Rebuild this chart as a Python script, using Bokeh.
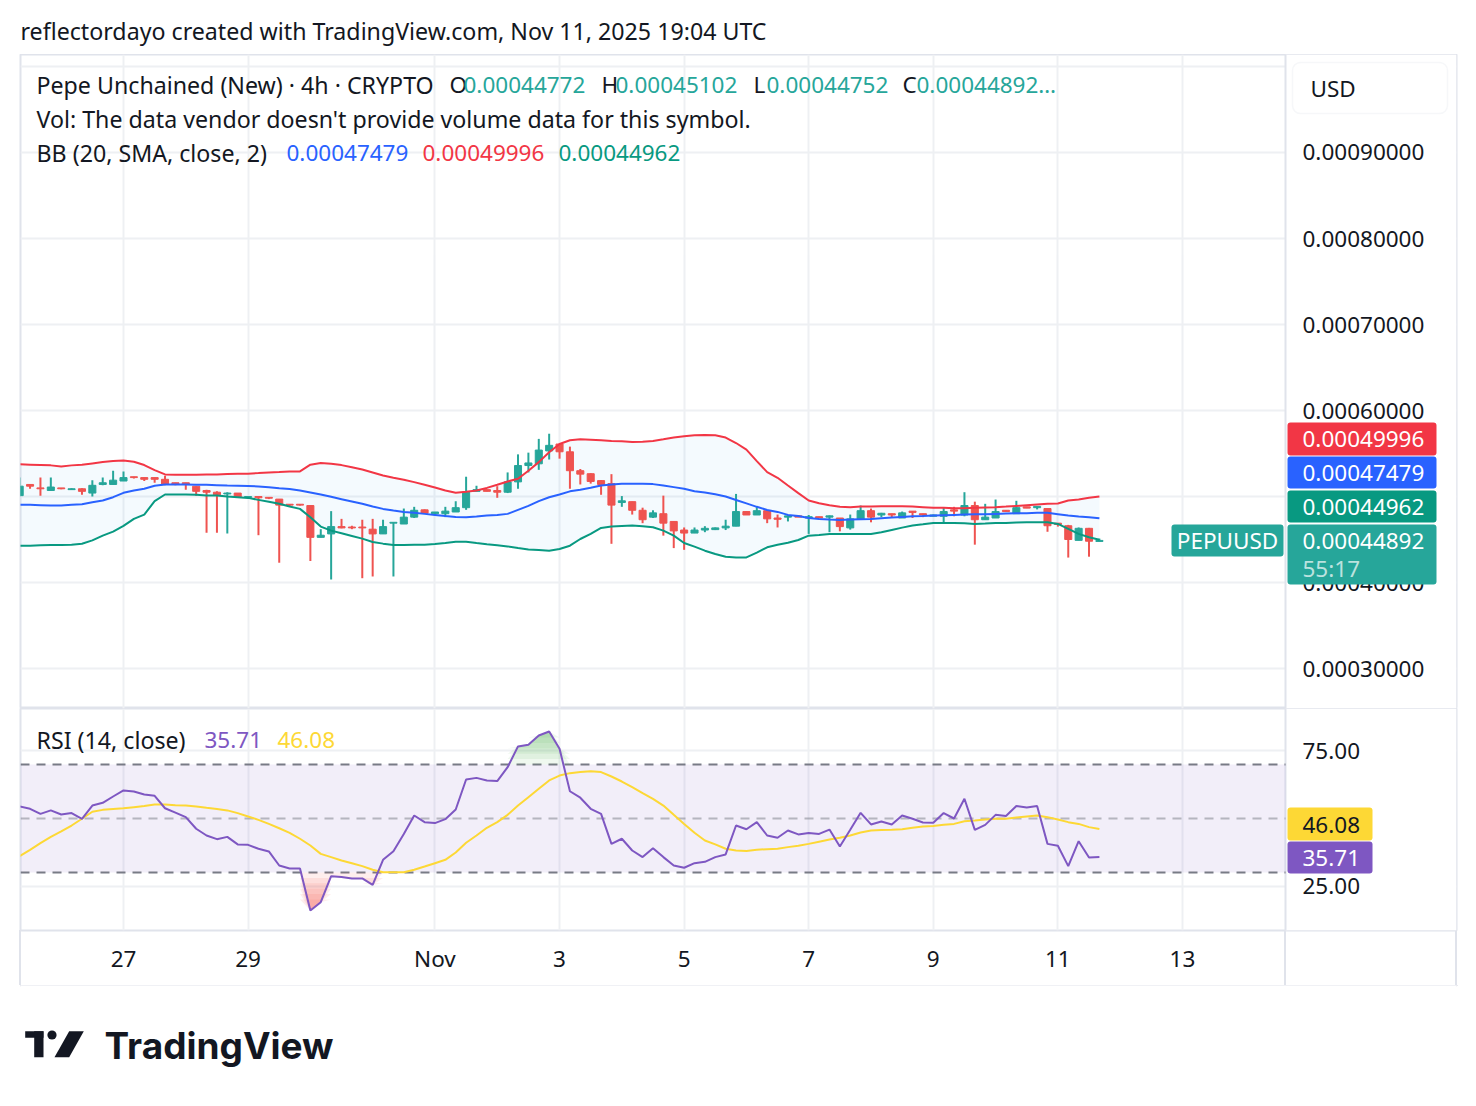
import numpy as np
import pandas as pd
from bokeh.plotting import figure
from bokeh.layouts import column
from bokeh.models import (FixedTicker, Label, BoxAnnotation, Span, Range1d)
from bokeh.embed import file_html
from bokeh.resources import INLINE
from bokeh.core.properties import value

FONT = "Noto Sans"
FS = "22.5px"      # numbers
FS_T = "23.2px"    # words
INK = "#131722"
UP = "#26a69a"
DOWN = "#ef5350"
BB_UP = "#f23645"
BB_MID = "#2962ff"
BB_LOW = "#089981"
RSI_C = "#7e57c2"
MA_C = "#fdd835"
GRID = "#eef0f3"
BORDER = "#e0e3eb"

# ---------------- data (prices in units of 1e-5 USD) ----------------
SCALE = 1e-5
times = pd.date_range("2025-10-25 08:00", periods=105, freq="4h")

open_e5 = [50.1, 51.4, 51.0, 50.7, 51.0, 50.8, 50.9, 50.4, 51.4, 51.4,
           51.8, 52.3, 52.2, 52.2, 52.0, 51.6, 51.6, 51.2, 50.7, 50.5,
           50.3, 50.4, 49.9, 50.0, 49.9, 49.7, 49.1, 49.1, 48.95, 45.25,
           45.65, 46.5, 46.45, 46.45, 46.2, 45.65, 46.9, 46.8, 47.6, 48.45,
           48.0, 48.0, 48.2, 48.7, 50.6, 50.8, 50.7, 50.5, 51.7, 53.6,
           53.8, 55.3, 56.1, 55.2, 53.0, 52.65, 51.85, 51.5, 49.3, 49.4,
           48.4, 47.6, 48.0, 47.1, 46.1, 45.75, 46.1, 46.15, 46.35, 46.55,
           48.25, 47.85, 48.35, 47.5, 47.6, 47.75, 47.5, 47.65, 47.6, 47.5,
           46.35, 47.4, 48.35, 47.85, 48.0, 47.5, 48.3, 48.0, 47.7, 47.7,
           48.45, 47.85, 48.95, 47.3, 47.5, 48.4, 48.0, 48.8, 48.7, 48.6,
           46.9, 46.6, 44.9, 46.3, 44.772]
high_e5 = [52.2, 51.4, 52.2, 52.2, 51.0, 50.95, 50.95, 51.9, 52.2, 53.0,
           52.9, 52.3, 52.2, 52.2, 52.4, 51.6, 51.6, 51.2, 50.8, 50.6,
           50.5, 50.4, 50.0, 50.0, 49.9, 49.7, 49.1, 49.1, 48.95, 46.2,
           48.3, 47.4, 46.6, 47.3, 47.4, 47.3, 47.0, 48.6, 48.8, 48.5,
           48.2, 48.8, 49.45, 52.3, 51.25, 50.8, 51.2, 52.8, 54.9, 55.1,
           56.7, 57.3, 56.1, 55.8, 53.2, 52.7, 51.9, 52.6, 50.05, 49.4,
           48.7, 48.4, 50.1, 47.1, 46.4, 46.4, 46.55, 46.4, 47.3, 50.3,
           48.3, 48.9, 48.4, 47.9, 47.8, 47.75, 47.85, 47.65, 47.8, 47.5,
           47.9, 48.95, 48.6, 48.1, 48.0, 48.25, 48.3, 48.0, 47.9, 48.7,
           48.8, 50.5, 49.4, 49.15, 49.65, 48.4, 49.5, 48.8, 48.85, 48.6,
           46.9, 46.7, 46.4, 46.35, 45.102]
low_e5 = [50.0, 50.9, 50.1, 50.7, 50.85, 50.8, 50.2, 50.0, 51.3, 51.4,
          51.8, 52.1, 51.8, 51.6, 51.3, 51.3, 50.8, 50.1, 45.8, 45.8,
          45.7, 49.9, 49.9, 45.5, 49.7, 42.3, 48.9, 48.95, 42.5, 45.25,
          40.35, 46.3, 46.2, 40.5, 40.7, 45.65, 40.7, 46.8, 47.5, 48.0,
          47.95, 47.6, 48.2, 48.45, 50.6, 50.6, 49.85, 50.4, 50.9, 52.8,
          53.1, 54.3, 54.4, 50.9, 51.4, 51.5, 50.2, 44.5, 48.8, 47.9,
          46.9, 47.5, 45.45, 44.0, 43.8, 45.75, 45.85, 46.1, 46.1, 46.55,
          47.85, 47.85, 46.9, 46.4, 47.1, 47.6, 45.65, 47.5, 45.85, 45.95,
          46.15, 47.4, 47.0, 47.6, 47.5, 47.5, 47.5, 47.6, 47.7, 47.0,
          47.7, 47.7, 44.4, 47.3, 47.5, 48.25, 48.0, 48.65, 48.5, 45.9,
          46.5, 42.9, 44.9, 43.0, 44.752]
close_e5 = [51.2, 51.2, 50.9, 51.1, 50.9, 50.9, 50.6, 51.3, 51.6, 51.9,
            52.2, 52.2, 52.0, 52.0, 51.4, 51.4, 51.4, 50.6, 50.5, 50.2,
            50.4, 49.9, 50.0, 49.85, 49.8, 49.0, 49.0, 49.0, 45.25, 45.5,
            46.5, 46.35, 46.35, 46.35, 45.65, 46.5, 47.0, 47.6, 48.4, 48.05,
            48.2, 48.3, 48.7, 50.5, 50.8, 50.6, 50.5, 51.7, 53.6, 53.9,
            55.4, 55.95, 55.2, 53.0, 52.6, 51.75, 51.4, 49.0, 49.5, 48.4,
            47.3, 48.1, 46.9, 46.0, 45.75, 46.1, 46.3, 46.35, 46.55, 48.25,
            47.85, 48.35, 47.4, 47.35, 47.75, 47.6, 47.65, 47.5, 47.75, 46.5,
            47.4, 48.35, 47.6, 48.05, 47.85, 48.1, 48.15, 47.85, 47.85, 48.25,
            48.3, 48.95, 47.3, 47.6, 48.25, 48.25, 48.7, 48.65, 48.85, 46.6,
            46.75, 45.0, 46.3, 44.8, 44.892]

bb_upper_e5 = [53.74, 53.70, 53.66, 53.62, 53.5, 53.62, 53.70, 53.85, 54.0, 54.12,
               54.2, 54.05, 53.66, 53.07, 52.57, 52.53, 52.53, 52.53, 52.57, 52.57,
               52.61, 52.65, 52.65, 52.72, 52.8, 52.84, 52.92, 52.92, 53.7, 53.89,
               53.81, 53.65, 53.4, 53.15, 52.8, 52.45, 52.18, 51.95, 51.67, 51.36,
               51.05, 50.7, 50.43, 50.55, 50.7, 51.0, 51.36, 51.75, 52.06, 53.0,
               54.0, 55.15, 56.1, 56.54, 56.65, 56.61, 56.54, 56.46, 56.42, 56.34,
               56.38, 56.46, 56.65, 56.85, 57.0, 57.12, 57.16, 57.12, 56.85, 56.22,
               55.45, 54.12, 52.84, 52.18, 51.28, 50.39, 49.53, 49.22, 48.99, 48.8,
               48.76, 48.83, 48.83, 48.87, 48.87, 48.87, 48.83, 48.76, 48.68, 48.68,
               48.64, 48.64, 48.68, 48.72, 48.76, 48.83, 48.91, 48.99, 49.07, 49.15,
               49.18, 49.53, 49.65, 49.85, 49.996]
bb_basis_e5 = [49.03, 49.03, 48.99, 48.95, 48.95, 49.03, 49.11, 49.34, 49.53, 49.92,
               50.43, 50.7, 50.9, 51.25, 51.4, 51.4, 51.4, 51.36, 51.36, 51.32,
               51.28, 51.25, 51.21, 51.17, 51.09, 50.97, 50.88, 50.7, 50.47, 50.23,
               49.96, 49.69, 49.42, 49.15, 48.83, 48.56, 48.37, 48.21, 48.1, 47.98,
               47.86, 47.74, 47.63, 47.59, 47.67, 47.78, 47.86, 47.98, 48.45, 48.91,
               49.46, 49.92, 50.23, 50.6, 50.78, 51.01, 51.28, 51.4, 51.48, 51.48,
               51.48, 51.44, 51.28, 51.09, 50.9, 50.62, 50.47, 50.27, 50.0, 49.6,
               49.2, 48.8, 48.44, 48.21, 47.86, 47.74, 47.51, 47.39, 47.32, 47.28,
               47.32, 47.36, 47.39, 47.47, 47.55, 47.63, 47.71, 47.74, 47.78, 47.82,
               47.86, 47.9, 47.94, 47.94, 47.98, 48.02, 48.06, 48.06, 48.1, 48.1,
               47.94, 47.78, 47.67, 47.59, 47.479]
bb_lower_e5 = [44.28, 44.28, 44.32, 44.36, 44.36, 44.4, 44.5, 44.9, 45.45, 45.92,
               46.58, 47.4, 47.9, 49.46, 50.23, 50.23, 50.23, 50.2, 50.12, 50.12,
               50.0, 49.92, 49.84, 49.61, 49.38, 49.15, 48.83, 48.56, 47.59, 46.5,
               46.03, 45.72, 45.41, 45.1, 44.71, 44.52, 44.36, 44.36, 44.4, 44.4,
               44.48, 44.59, 44.75, 44.75, 44.59, 44.44, 44.32, 44.2, 44.01, 43.85,
               43.78, 43.7, 43.89, 44.28, 45.06, 45.65, 46.34, 46.5, 46.58, 46.62,
               46.54, 46.42, 46.03, 45.45, 44.59, 44.17, 43.7, 43.31, 43.0, 42.92,
               42.92, 43.47, 44.09, 44.4, 44.63, 44.94, 45.45, 45.53, 45.65, 45.65,
               45.65, 45.65, 45.65, 45.84, 46.11, 46.38, 46.62, 46.77, 46.93, 46.93,
               46.93, 46.89, 46.81, 46.85, 46.93, 46.93, 46.97, 47.0, 47.0, 47.0,
               46.81, 46.23, 45.65, 45.26, 44.962]

rsi = [54.45, 53.6, 51.7, 53.0, 51.5, 52.0, 49.9, 54.8, 55.8, 58.15,
       60.4, 60.0, 58.9, 58.4, 53.8, 52.2, 50.5, 46.2, 43.7, 42.35,
       43.2, 40.4, 40.25, 38.8, 37.8, 32.6, 31.5, 31.5, 15.9, 19.0,
       28.65, 28.3, 27.8, 27.8, 25.4, 34.7, 37.9, 44.3, 51.1, 48.65,
       48.3, 49.75, 53.35, 64.45, 65.05, 64.1, 63.85, 69.0, 76.7, 77.3,
       80.75, 82.2, 75.8, 60.1, 57.7, 53.6, 51.7, 40.6, 42.5, 38.15,
       35.7, 39.0, 35.7, 32.6, 31.75, 33.45, 33.95, 35.7, 36.7, 47.4,
       46.0, 48.65, 43.7, 42.85, 45.55, 44.1, 44.6, 44.3, 45.9, 39.65,
       45.8, 52.1, 47.8, 48.9, 47.8, 51.1, 49.9, 48.5, 48.4, 52.0,
       50.0, 57.3, 45.8, 47.65, 51.35, 50.9, 54.6, 54.1, 54.6, 40.6,
       39.9, 32.35, 41.6, 35.55, 35.71]
rsi_ma = [36.05, 38.4, 40.9, 43.2, 45.2, 47.4, 49.9, 52.5, 53.2, 53.5,
          53.8, 54.2, 54.6, 55.2, 55.2, 54.9, 54.8, 54.45, 53.95, 53.5,
          53.0, 52.0, 50.75, 49.5, 48.0, 46.4, 44.7, 42.5, 40.0, 36.9,
          35.7, 34.45, 33.45, 32.35, 31.0, 30.1, 30.1, 30.1, 31.0, 32.2,
          33.45, 34.7, 37.4, 41.0, 43.7, 46.55, 48.65, 51.35, 54.8, 57.9,
          61.0, 64.1, 65.9, 66.8, 67.2, 67.5, 67.2, 65.55, 63.7, 61.6,
          59.4, 57.3, 54.8, 51.35, 48.0, 44.7, 41.85, 40.4, 38.8, 38.15,
          37.95, 38.4, 38.65, 38.8, 39.4, 39.9, 40.6, 41.4, 42.2, 42.85,
          43.7, 44.8, 45.55, 45.7, 45.8, 46.05, 46.55, 47.05, 47.2, 47.7,
          48.0, 49.0, 49.25, 49.6, 49.9, 49.9, 50.4, 50.75, 51.1, 50.5,
          49.6, 48.65, 48.0, 46.8, 46.08]

tick_dates = ["2025-10-27", "2025-10-29", "2025-11-01", "2025-11-03", "2025-11-05",
              "2025-11-07", "2025-11-09", "2025-11-11", "2025-11-13"]
tick_labels = ["27", "29", "Nov", "3", "5", "7", "9", "11", "13"]
price_grid = [0.0003, 0.0004, 0.0005, 0.0006, 0.0007, 0.0008, 0.0009, 0.0010]
price_labels = [0.0003, 0.0004, 0.0006, 0.0007, 0.0008, 0.0009]  # 0.0005 hidden behind tags
rsi_ticks = [25, 75]
rsi_levels = [70, 50, 30]

header_text = "reflectordayo created with TradingView.com, Nov 11, 2025 19:04 UTC"

# ---------------- derived ----------------
origin = pd.Timestamp("2025-10-27")
bar = pd.Timedelta(hours=4)
x = ((times - origin) / bar).to_numpy(dtype=float)
tick_x = [float((pd.Timestamp(d) - origin) / bar) for d in tick_dates]
o = np.array(open_e5) * SCALE
h = np.array(high_e5) * SCALE
l = np.array(low_e5) * SCALE
c = np.array(close_e5) * SCALE
up = c >= o
bbu = np.array(bb_upper_e5) * SCALE
bbm = np.array(bb_basis_e5) * SCALE
bbl = np.array(bb_lower_e5) * SCALE
rsi_a = np.array(rsi)
ma_a = np.array(rsi_ma)

# layout: frame spans canvas x 20..1456; chart area ends at x=1285 (price scale to the right)
W = 1458
PX_PER_BAR = 10.382
X0 = -103 / PX_PER_BAR
X1 = 1333 / PX_PER_BAR
SPLIT = 1162 / PX_PER_BAR
XR = Range1d(X0, X1)
AX_S = 1265  # screen x (from frame left) where the price-scale area begins


def style_common(fig):
    fig.border_fill_color = "white"
    fig.background_fill_color = "white"
    fig.outline_line_color = BORDER
    fig.outline_line_width = 2
    fig.xgrid.ticker = FixedTicker(ticks=tick_x)
    fig.xgrid.grid_line_color = GRID
    fig.xgrid.grid_line_width = 2
    fig.ygrid.grid_line_color = GRID
    fig.ygrid.grid_line_width = 2
    fig.add_layout(BoxAnnotation(left=AX_S, left_units="screen", fill_color="white",
                                 fill_alpha=1.0, line_color=None, level="underlay"))
    fig.add_layout(Span(location=SPLIT, dimension="height", line_color=BORDER,
                        line_width=2, level="underlay"))


def box(fig, left, right, bottom, top, fill, radius=3, line=None):
    fig.add_layout(BoxAnnotation(left=left, right=right, bottom=bottom, top=top,
                                 left_units="screen", right_units="screen",
                                 bottom_units="screen", top_units="screen",
                                 fill_color=fill, fill_alpha=1.0,
                                 line_color=line, line_width=1.5,
                                 border_radius=radius, level="overlay"))


def txt(fig, xs, ys, s, color=INK, size=FS, align="left", alpha=1.0, y_units="screen"):
    fig.add_layout(Label(x=xs, y=ys, x_units="screen", y_units=y_units, text=s,
                         text_color=color, text_alpha=alpha, text_font=FONT,
                         text_font_size=size, text_align=align, text_baseline="middle",
                         level="overlay"))


# ---------------- header ----------------
hdr = figure(width=W, height=54, x_range=(20, 1456), y_range=(54, 0),
             toolbar_location=None, output_backend="svg", min_border=0,
             min_border_left=20, min_border_right=2,
             x_axis_location=None, y_axis_location=None)
hdr.outline_line_color = None
hdr.grid.visible = False
hdr.text(x=[20], y=[30], text=[header_text], text_font=value(FONT), text_font_size=FS_T,
         text_baseline="middle", text_color=INK)

# ---------------- price pane ----------------
p1 = figure(width=W, height=654, x_range=XR, y_range=Range1d(0.0002535, 0.00101395),
            toolbar_location=None, output_backend="svg", x_axis_location=None,
            y_axis_location=None, min_border_left=20, min_border_right=2,
            min_border_top=0, min_border_bottom=0)
p1.ygrid.ticker = FixedTicker(ticks=price_grid)
style_common(p1)

p1.varea(x=x, y1=bbl, y2=bbu, fill_color="#2196f3", fill_alpha=0.05)
colors = np.where(up, UP, DOWN)
p1.segment(x0=x, y0=h, x1=x, y1=l, line_color=colors, line_width=2)
p1.vbar(x=x, width=0.68, top=np.maximum(o, c), bottom=np.minimum(o, c),
        fill_color=colors, line_color=colors, line_width=1)
p1.line(x=x, y=bbu, line_color=BB_UP, line_width=2)
p1.line(x=x, y=bbm, line_color=BB_MID, line_width=2)
p1.line(x=x, y=bbl, line_color=BB_LOW, line_width=2)

for t in price_labels:
    txt(p1, 1282, t, f"{t:.8f}", y_units="data")

# legend (screen coords relative to frame: x from left=20, y up from bottom=708)
txt(p1, 16, 624, "Pepe Unchained (New) · 4h · CRYPTO", size=FS_T)
for lx, letter, vx, val in [(429, "O", 443, "0.00044772"), (581, "H", 595, "0.00045102"),
                            (733, "L", 746, "0.00044752"), (882, "C", 896, "0.00044892…")]:
    txt(p1, lx, 624, letter)
    txt(p1, vx, 624, val, color=UP)
txt(p1, 16, 590, "Vol: The data vendor doesn't provide volume data for this symbol.", size=FS_T)
txt(p1, 16, 556, "BB (20, SMA, close, 2)", size=FS_T)
txt(p1, 266, 556, "0.00047479", color=BB_MID)
txt(p1, 402, 556, "0.00049996", color=BB_UP)
txt(p1, 538, 556, "0.00044962", color=BB_LOW)

# price-scale tags
box(p1, 1272, 1427, 595, 646, "white", radius=8, line=BORDER)
txt(p1, 1290, 620, "USD")
box(p1, 1267, 1416, 253, 286, BB_UP)
txt(p1, 1282, 270, "0.00049996", color="white")
box(p1, 1267, 1416, 220, 252, BB_MID)
txt(p1, 1282, 236, "0.00047479", color="white")
box(p1, 1267, 1416, 186, 218, BB_LOW)
txt(p1, 1282, 202, "0.00044962", color="white")
box(p1, 1267, 1416, 124, 184, UP)
txt(p1, 1282, 168, "0.00044892", color="white")
txt(p1, 1282, 140, "55:17", color="white", alpha=0.7)
box(p1, 1151, 1263, 152, 184, UP)
txt(p1, 1207, 168, "PEPUUSD", color="white", align="center")

# ---------------- RSI pane ----------------
p2 = figure(width=W, height=277, x_range=XR, y_range=Range1d(8.52, 90.74),
            toolbar_location=None, output_backend="svg", x_axis_location="below",
            y_axis_location=None, min_border_left=20, min_border_right=2,
            min_border_top=0, min_border_bottom=55)
p2.ygrid.ticker = FixedTicker(ticks=rsi_ticks)
style_common(p2)
p2.border_fill_alpha = 0
p2.styles = {
    "box-shadow": "10px 12px 0 -10px " + BORDER,
    "background": (f"linear-gradient({BORDER}, {BORDER}) 19px 222px / 2px 55px no-repeat, "
                   f"linear-gradient({BORDER}, {BORDER}) 1284px 222px / 2px 55px no-repeat, "
                   f"linear-gradient({BORDER}, {BORDER}) 1455px 222px / 2px 55px no-repeat, white"),
}
xa = p2.xaxis[0]
xa.ticker = FixedTicker(ticks=tick_x)
xa.major_label_overrides = dict(zip(tick_x, tick_labels))
xa.axis_line_color = None
xa.major_tick_line_color = None
xa.minor_tick_line_color = None
xa.major_tick_out = 0
xa.major_tick_in = 0
xa.major_label_standoff = 12
xa.major_label_text_font = FONT
xa.major_label_text_font_size = FS
xa.major_label_text_color = INK

p2.add_layout(BoxAnnotation(bottom=30, top=70, right=AX_S, right_units="screen",
                            fill_color=RSI_C, fill_alpha=0.1, line_color=None, level="underlay"))
p2.segment(x0=[X0] * 3, x1=[SPLIT] * 3, y0=rsi_levels, y1=rsi_levels,
           line_color="#787b86", line_alpha=[1.0, 0.5, 1.0], line_width=2, line_dash="9 7")

for j in range(6):
    top_lvl = 70 + 2 * j
    p2.varea(x=x, y1=top_lvl, y2=np.maximum(rsi_a, top_lvl), fill_color="#4caf50", fill_alpha=0.09)
    bot_lvl = 30 - 2 * j
    p2.varea(x=x, y1=bot_lvl, y2=np.minimum(rsi_a, bot_lvl), fill_color="#f44336", fill_alpha=0.09)

p2.line(x=x, y=ma_a, line_color=MA_C, line_width=2)
p2.line(x=x, y=rsi_a, line_color=RSI_C, line_width=2)

for t in rsi_ticks:
    txt(p2, 1282, t, f"{t:.2f}", y_units="data")

txt(p2, 16, 191, "RSI (14, close)", size=FS_T)
txt(p2, 184, 191, "35.71", color=RSI_C)
txt(p2, 257, 191, "46.08", color=MA_C)
box(p2, 1267, 1352, 90, 123, MA_C)
txt(p2, 1282, 106, "46.08", color=INK)
box(p2, 1267, 1352, 57, 89, RSI_C)
txt(p2, 1282, 73, "35.71", color="white")

# ---------------- footer ----------------
ftr = figure(width=W, height=121, x_range=(20, 1456), y_range=(121, 0),
             toolbar_location=None, output_backend="svg", min_border=0,
             min_border_left=20, min_border_right=2,
             x_axis_location=None, y_axis_location=None)
ftr.outline_line_color = None
ftr.grid.visible = False
ftr.quad(left=[24.7, 33.7], right=[43, 43], top=[45.7, 45.7], bottom=[52.3, 71.7],
         fill_color=INK, line_color=None)
ftr.circle(x=[51.5], y=[49.5], radius=4.6, fill_color=INK, line_color=None)
ftr.patch(x=[54, 68.7, 83.3, 68.7], y=[71.7, 71.7, 45.7, 45.7], fill_color=INK, line_color=None)
ftr.text(x=[104], y=[60], text=["TradingView"], text_font=value("Inter"),
         text_font_size="37px", text_font_style="bold", text_baseline="middle",
         text_color=INK)

layout = column(hdr, p1, p2, ftr, spacing=0)
open("out.html", "w").write(file_html(layout, INLINE))
